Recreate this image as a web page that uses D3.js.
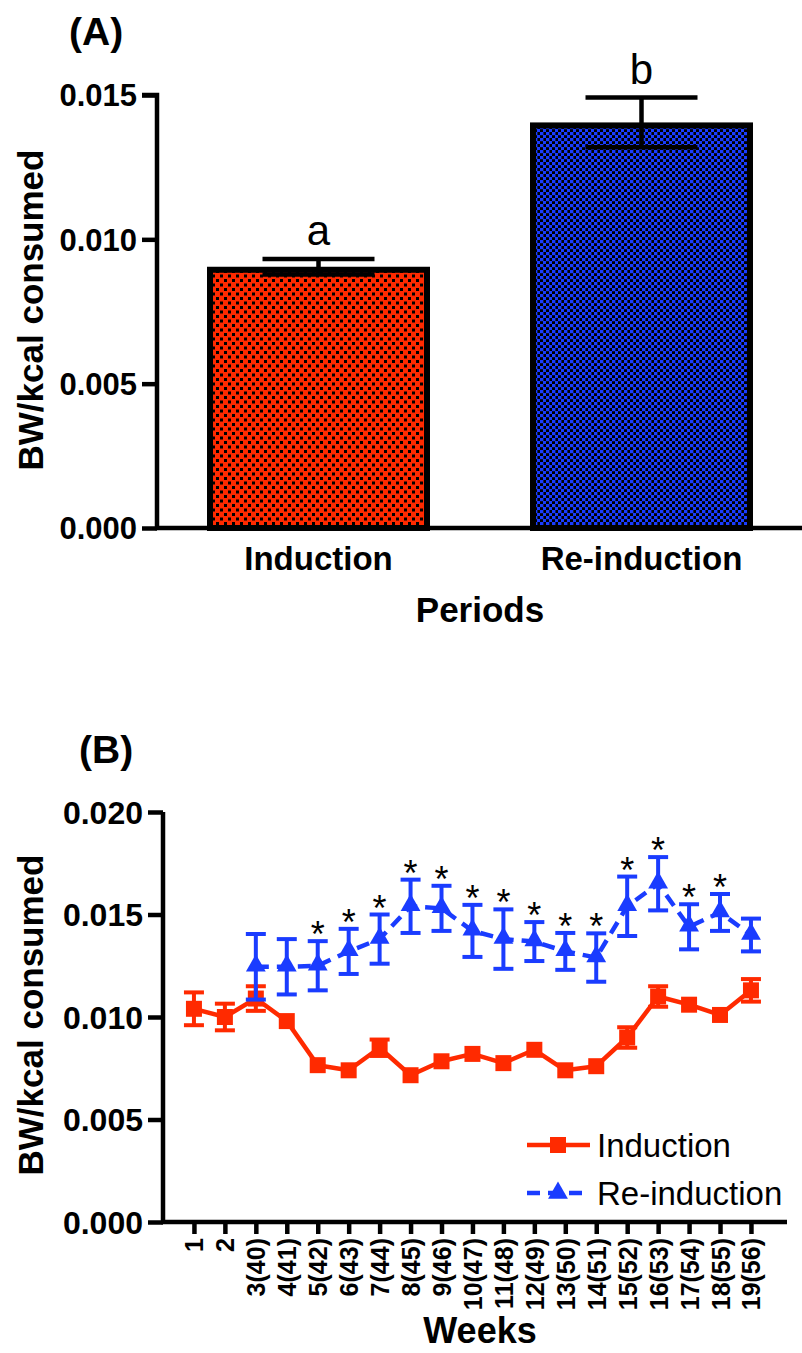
<!DOCTYPE html>
<html>
<head>
<meta charset="utf-8">
<script src="https://cdn.jsdelivr.net/npm/d3@7"></script>
<style>
  body { margin: 0; background: #fff; }
  text { font-family: "Liberation Sans", Arial, sans-serif; }
</style>
</head>
<body>
<svg id="chart" width="802" height="1353"></svg>
<script>
// ---- Panel A: body weight per kcal consumed, by period ----
const periods = ["Induction", "Re-induction"];
const periodMeans = [0.00905, 0.01405];
const periodSem = [0.00027, 0.00086];
const periodLetters = ["a", "b"];
const ticksA = [0.000, 0.005, 0.010, 0.015];

// ---- Panel B: weekly body weight per kcal consumed ----
const weeks = [1, 2, 3, 4, 5, 6, 7, 8, 9, 10, 11, 12, 13, 14, 15, 16, 17, 18, 19];
const weekLabels = ["1", "2", "3(40)", "4(41)", "5(42)", "6(43)", "7(44)", "8(45)", "9(46)", "10(47)",
  "11(48)", "12(49)", "13(50)", "14(51)", "15(52)", "16(53)", "17(54)", "18(55)", "19(56)"];
const inductionMeans = [0.0104, 0.0100, 0.0109, 0.0098, 0.00765, 0.0074, 0.0085, 0.00716, 0.00784, 0.0082,
  0.00775, 0.0084, 0.0074, 0.0076, 0.0090, 0.0110, 0.0106, 0.0101, 0.0113];
const inductionSem = [0.0008, 0.00065, 0.0006, 0.0002, 0.0002, 0.0002, 0.0004, 0.0002, 0.0002, 0.0002,
  0.0002, 0.0002, 0.0002, 0.0003, 0.0005, 0.0005, 0.0003, 0.0002, 0.00055];
const reinductionWeeks = [3, 4, 5, 6, 7, 8, 9, 10, 11, 12, 13, 14, 15, 16, 17, 18, 19];
const reinductionMeans = [0.01245, 0.01245, 0.0125, 0.0132, 0.0138, 0.0154, 0.0153, 0.0142, 0.0138,
  0.01368, 0.0132, 0.0129, 0.0154, 0.0165, 0.0144, 0.0151, 0.0140];
const reinductionSem = [0.0016, 0.00135, 0.0012, 0.0011, 0.0012, 0.0013, 0.0011, 0.00127, 0.00145,
  0.00095, 0.0009, 0.00118, 0.00145, 0.0013, 0.0011, 0.0009, 0.0008];
const significantWeeks = [5, 6, 7, 8, 9, 10, 11, 12, 13, 14, 15, 16, 17, 18];
const ticksB = [0.000, 0.005, 0.010, 0.015, 0.020];

const RED = "#ff2a00";
const BLUE = "#1a3cff";

const svg = d3.select("#chart");
const defs = svg.append("defs");

// dotted fills for the bars
const redPat = defs.append("pattern").attr("id", "redDots")
  .attr("patternUnits", "userSpaceOnUse").attr("width", 8).attr("height", 9);
redPat.append("rect").attr("width", 8).attr("height", 9).attr("fill", RED);
redPat.append("rect").attr("x", 0).attr("y", 0).attr("width", 3).attr("height", 3).attr("fill", "#000");
redPat.append("rect").attr("x", 4).attr("y", 4.5).attr("width", 3).attr("height", 3).attr("fill", "#000");

const bluePat = defs.append("pattern").attr("id", "blueChecks")
  .attr("patternUnits", "userSpaceOnUse").attr("width", 6).attr("height", 6);
bluePat.append("rect").attr("width", 6).attr("height", 6).attr("fill", "#000");
bluePat.append("rect").attr("x", 0).attr("y", 0).attr("width", 3.4).attr("height", 3.2).attr("fill", BLUE);
bluePat.append("rect").attr("x", 3).attr("y", 3).attr("width", 3.4).attr("height", 3.2).attr("fill", BLUE);

// ================= Panel A =================
const gA = svg.append("g");
const yA = d3.scaleLinear().domain([0, 0.015]).range([528, 95]);
const xA = d3.scaleBand().domain(periods).range([207, 753]).paddingInner(0.3096).paddingOuter(0);

gA.append("text").attr("x", 69).attr("y", 45)
  .attr("font-size", 39).attr("font-weight", "bold").text("(A)");

// bars
const barStroke = 6;
gA.selectAll("rect.bar").data(periods).join("rect")
  .attr("class", "bar")
  .attr("x", d => xA(d) + barStroke / 2)
  .attr("width", xA.bandwidth() - barStroke)
  .attr("y", (d, i) => yA(periodMeans[i]) + barStroke / 2)
  .attr("height", (d, i) => yA(0) - yA(periodMeans[i]) - barStroke / 2)
  .attr("fill", (d, i) => i === 0 ? "url(#redDots)" : "url(#blueChecks)")
  .attr("stroke", "#000").attr("stroke-width", barStroke);

// error bars
periods.forEach((p, i) => {
  const cx = xA(p) + xA.bandwidth() / 2;
  const hi = yA(periodMeans[i] + periodSem[i]);
  const lo = yA(periodMeans[i] - periodSem[i]);
  const g = gA.append("g").attr("stroke", "#000").attr("stroke-width", 4.5);
  g.append("line").attr("x1", cx).attr("x2", cx).attr("y1", hi).attr("y2", lo);
  g.append("line").attr("x1", cx - 56).attr("x2", cx + 56).attr("y1", hi).attr("y2", hi);
  g.append("line").attr("x1", cx - 56).attr("x2", cx + 56).attr("y1", lo).attr("y2", lo);
  gA.append("text").attr("x", cx).attr("y", hi - 14)
    .attr("text-anchor", "middle").attr("font-size", 42).text(periodLetters[i]);
});

// axes
const axA = gA.append("g").attr("transform", "translate(157,0)")
  .call(d3.axisLeft(yA).tickValues(ticksA).tickFormat(d3.format(".3f")).tickSize(15).tickPadding(5));
axA.select(".domain").attr("stroke-width", 4.5).attr("d", `M0,${yA(0)}V${yA(0.015)}H-15`);
axA.selectAll(".tick line").attr("stroke-width", 4.5);
axA.selectAll(".tick text").attr("font-size", 31).attr("font-weight", "bold").attr("fill", "#000").attr("dy", "0.35em");

gA.append("line").attr("x1", 155).attr("x2", 802).attr("y1", yA(0)).attr("y2", yA(0))
  .attr("stroke", "#000").attr("stroke-width", 4.5);

gA.selectAll("text.xlab").data(periods).join("text").attr("class", "xlab")
  .attr("x", d => xA(d) + xA.bandwidth() / 2).attr("y", 570)
  .attr("text-anchor", "middle").attr("font-size", 33).attr("font-weight", "bold").text(d => d);

gA.append("text").attr("x", 480).attr("y", 622).attr("text-anchor", "middle")
  .attr("font-size", 35).attr("font-weight", "bold").text("Periods");

gA.append("text").attr("transform", `translate(43,310) rotate(-90)`)
  .attr("text-anchor", "middle").attr("font-size", 35).attr("font-weight", "bold").text("BW/kcal consumed");

// ================= Panel B =================
const gB = svg.append("g");
const xB = d3.scaleLinear().domain([0, 20.1]).range([163, 785]);
const yB = d3.scaleLinear().domain([0, 0.020]).range([1222, 812]);

gB.append("text").attr("x", 79).attr("y", 763)
  .attr("font-size", 39).attr("font-weight", "bold").text("(B)");

const axB = gB.append("g").attr("transform", "translate(163,0)")
  .call(d3.axisLeft(yB).tickValues(ticksB).tickFormat(d3.format(".3f")).tickSize(15).tickPadding(5));
axB.select(".domain").attr("stroke-width", 4.5).attr("d", `M0,${yB(0)}V${yB(0.020)}`);
axB.selectAll(".tick line").attr("stroke-width", 4.5);
axB.selectAll(".tick text").attr("font-size", 32).attr("font-weight", "bold").attr("fill", "#000").attr("dy", "0.35em");

const axBx = gB.append("g").attr("transform", `translate(0,${yB(0)})`)
  .call(d3.axisBottom(xB).tickValues(weeks).tickFormat((d, i) => weekLabels[i]).tickSize(12).tickPadding(4));
axBx.select(".domain").attr("stroke-width", 4.5).attr("d", `M161,0H787`);
axBx.selectAll(".tick line").attr("stroke-width", 4.5);
axBx.selectAll(".tick text")
  .attr("font-size", 25).attr("font-weight", "bold").attr("fill", "#000")
  .attr("text-anchor", "end").attr("transform", "rotate(-90)")
  .attr("x", -16).attr("y", 0).attr("dy", "0.36em");

gB.append("text").attr("x", 480).attr("y", 1343).attr("text-anchor", "middle")
  .attr("font-size", 36).attr("font-weight", "bold").text("Weeks");

gB.append("text").attr("transform", `translate(43,1015) rotate(-90)`)
  .attr("text-anchor", "middle").attr("font-size", 35).attr("font-weight", "bold").text("BW/kcal consumed");

// error bars drawn only where they reach beyond the marker
function errorBars(g, xs, means, sems, color, half) {
  xs.forEach((w, i) => {
    const hi = yB(means[i] + sems[i]);
    const lo = yB(means[i] - sems[i]);
    if (yB(means[i]) - hi < half) return;
    const cx = xB(w);
    const e = g.append("g").attr("stroke", color).attr("stroke-width", 4);
    e.append("line").attr("x1", cx).attr("x2", cx).attr("y1", hi).attr("y2", lo);
    e.append("line").attr("x1", cx - 10).attr("x2", cx + 10).attr("y1", hi).attr("y2", hi);
    e.append("line").attr("x1", cx - 10).attr("x2", cx + 10).attr("y1", lo).attr("y2", lo);
  });
}

// Induction series
const indPts = weeks.map((w, i) => [w, inductionMeans[i]]);
const line = d3.line().x(d => xB(d[0])).y(d => yB(d[1]));
errorBars(gB, weeks, inductionMeans, inductionSem, RED, 7);
gB.append("path").attr("d", line(indPts)).attr("fill", "none")
  .attr("stroke", RED).attr("stroke-width", 4.5).attr("stroke-linejoin", "round");
const sq = d3.symbol().type(d3.symbolSquare).size(256);
gB.selectAll("path.sq").data(indPts).join("path").attr("class", "sq")
  .attr("d", sq).attr("transform", d => `translate(${xB(d[0])},${yB(d[1])})`).attr("fill", RED);

// Re-induction series
const reiPts = reinductionWeeks.map((w, i) => [w, reinductionMeans[i]]);
errorBars(gB, reinductionWeeks, reinductionMeans, reinductionSem, BLUE, 7);
gB.append("path").attr("d", line(reiPts)).attr("fill", "none")
  .attr("stroke", BLUE).attr("stroke-width", 4.5).attr("stroke-dasharray", "13,8");
const tri = d3.symbol().type(d3.symbolTriangle).size(170);
gB.selectAll("path.tri").data(reiPts).join("path").attr("class", "tri")
  .attr("d", tri).attr("transform", d => `translate(${xB(d[0])},${yB(d[1]) - 1})`).attr("fill", BLUE);

// significance marks
gB.selectAll("text.star").data(significantWeeks).join("text").attr("class", "star")
  .attr("x", d => xB(d))
  .attr("y", d => {
    const i = reinductionWeeks.indexOf(d);
    return yB(reinductionMeans[i] + reinductionSem[i]) + 6;
  })
  .attr("text-anchor", "middle").attr("font-size", 36).text("*");

// legend
const legend = gB.append("g");
const legItems = [
  { label: "Induction", color: RED, dash: null, sym: sq, y: 1145 },
  { label: "Re-induction", color: BLUE, dash: "13,8", sym: tri, y: 1193 }
];
legItems.forEach(it => {
  legend.append("line").attr("x1", 527).attr("x2", 590).attr("y1", it.y).attr("y2", it.y)
    .attr("stroke", it.color).attr("stroke-width", 4.5).attr("stroke-dasharray", it.dash);
  legend.append("path").attr("d", it.sym).attr("transform", `translate(558,${it.y})`).attr("fill", it.color);
  legend.append("text").attr("x", 597).attr("y", it.y + 12)
    .attr("font-size", 33).text(it.label);
});
</script>
</body>
</html>
